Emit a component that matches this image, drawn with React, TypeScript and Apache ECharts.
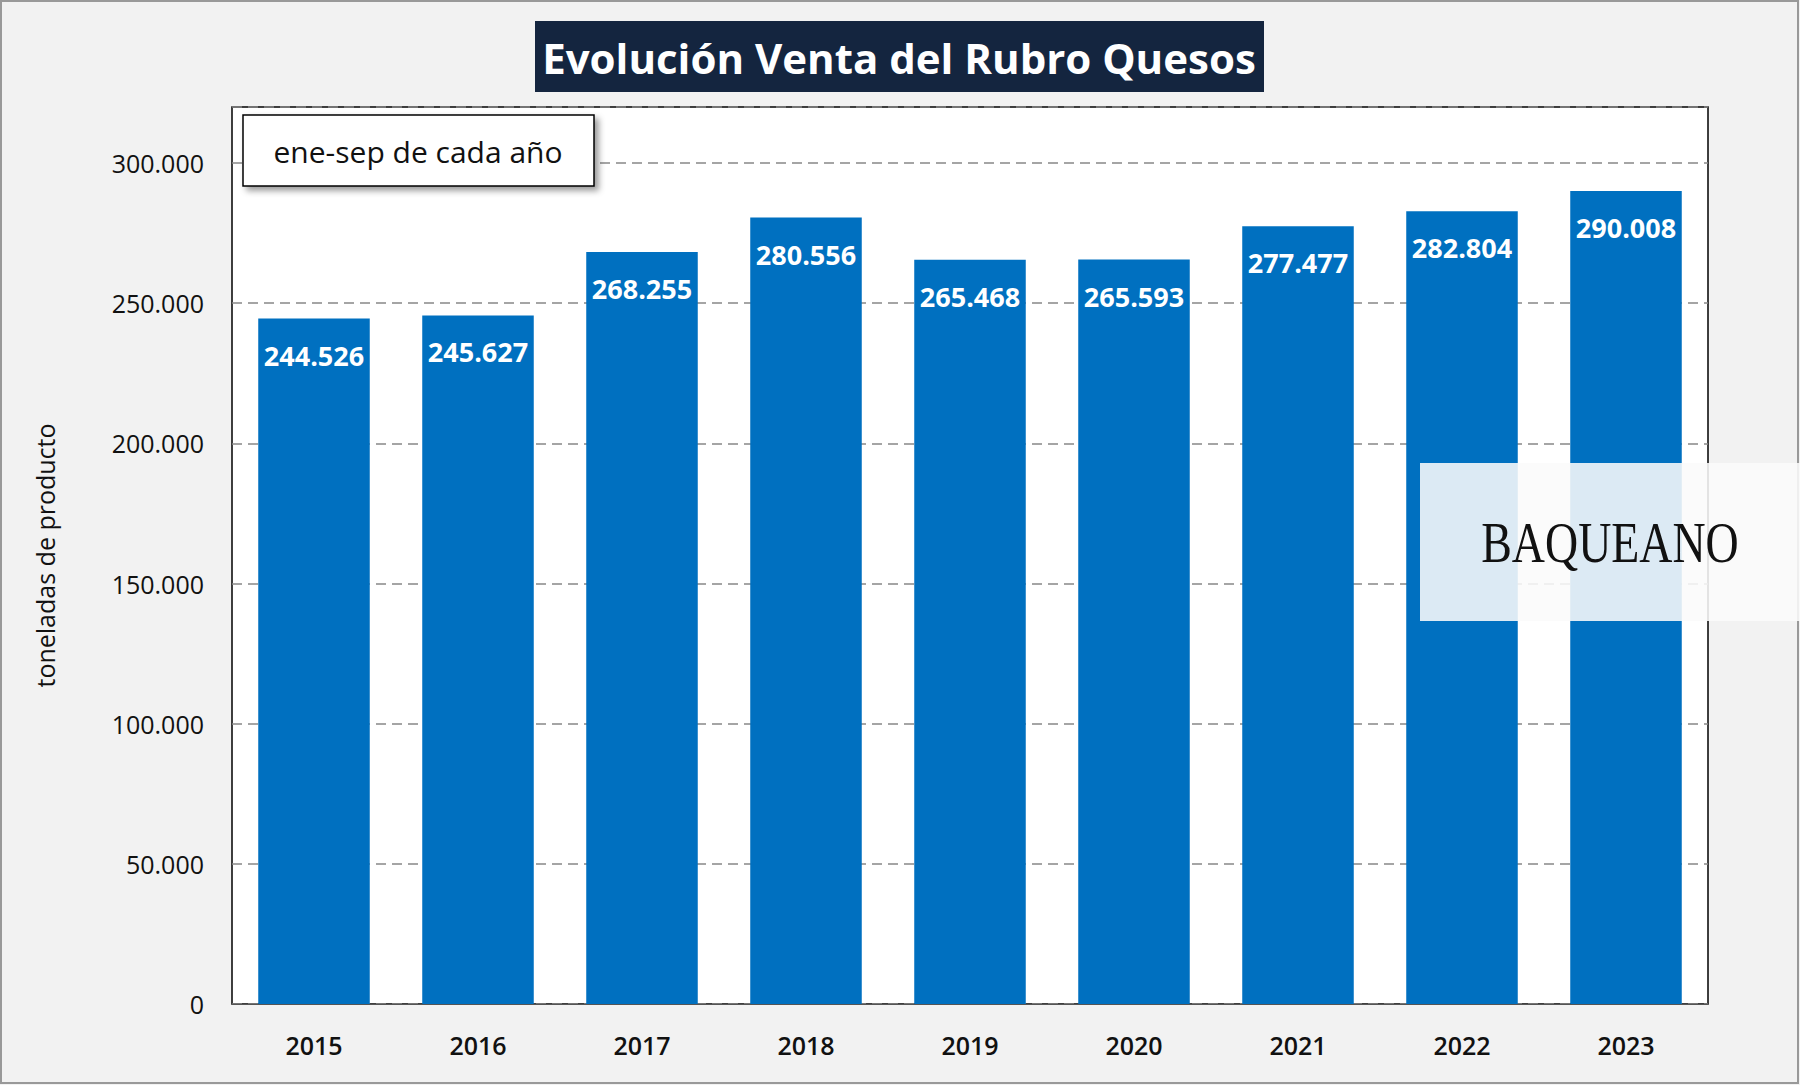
import { useEffect, useRef } from "react";
import * as echarts from "echarts";

const years = ["2015", "2016", "2017", "2018", "2019", "2020", "2021", "2022", "2023"];
const tons = [244526, 245627, 268255, 280556, 265468, 265593, 277477, 282804, 290008];

const fmt = (v: number) => String(v).replace(/\B(?=(\d{3})+(?!\d))/g, ".");
const FONT = "'Open Sans', 'Noto Sans', sans-serif";

const App = () => {
  const ref = useRef<HTMLDivElement>(null);

  useEffect(() => {
    if (!ref.current) return;
    const chart = echarts.init(ref.current, null, { renderer: "svg" });
    chart.setOption({
      animation: false,
      backgroundColor: "#f2f2f2",
      grid: { left: 232, right: 92, top: 107, bottom: 81, show: true, backgroundColor: "#ffffff", borderColor: "#000", borderWidth: 1.5 },
      xAxis: {
        type: "category",
        data: years,
        axisLine: { lineStyle: { color: "#555" } },
        axisTick: { lineStyle: { color: "#555" } },
        axisLabel: { color: "#111", fontSize: 25, fontFamily: FONT, fontWeight: 600, margin: 28 },
      },
      yAxis: {
        type: "value",
        min: 0,
        max: 320000,
        interval: 50000,
        name: "toneladas de producto",
        nameLocation: "middle",
        nameGap: 175,
        nameTextStyle: { color: "#111", fontSize: 25, fontFamily: FONT },
        axisLine: { show: false },
        axisTick: { show: false },
        axisLabel: { color: "#111", fontSize: 25, fontFamily: FONT, margin: 28, showMaxLabel: false, formatter: (v: number) => fmt(v) },
        splitLine: { lineStyle: { color: "#888", type: [10, 6], width: 1.5 } },
      },
      series: [{
        type: "bar",
        data: tons,
        barWidth: "68%",
        itemStyle: { color: "#0070c0" },
        label: {
          show: true,
          position: "insideTop",
          color: "#fff",
          fontSize: 27,
          fontWeight: "bold",
          fontFamily: FONT,
          offset: [0, 18],
          formatter: (p: any) => fmt(p.value),
        },
      }],
      graphic: [
        { type: "rect", z: 100, shape: { x: 1, y: 1, width: 1797, height: 1082 }, style: { fill: "none", stroke: "#999", lineWidth: 2 } },
        { type: "rect", z: 100, shape: { x: 535, y: 21, width: 729, height: 71 }, style: { fill: "#14253f" } },
        { type: "text", z: 101, x: 899, y: 57, style: { text: "Evolución Venta del Rubro Quesos", fill: "#fff", fontSize: 42, fontWeight: "bold", fontFamily: FONT, align: "center", verticalAlign: "middle" } },
        { type: "rect", z: 100, shape: { x: 243, y: 115, width: 351, height: 71 }, style: { fill: "#fff", stroke: "#000", lineWidth: 1.5, shadowBlur: 6, shadowOffsetX: 4, shadowOffsetY: 4, shadowColor: "rgba(0,0,0,0.4)" } },
        { type: "text", z: 101, x: 418, y: 151, style: { text: "ene-sep de cada año", fill: "#111", fontSize: 30, fontFamily: FONT, align: "center", verticalAlign: "middle" } },
        { type: "rect", z: 100, shape: { x: 1420, y: 463, width: 380, height: 158 }, style: { fill: "rgba(250,250,250,0.88)" } },
        { type: "text", z: 101, x: 1610, y: 543, scaleX: 0.82, style: { text: "BAQUEANO", fill: "#111", fontSize: 56, fontFamily: "'Liberation Serif', serif", align: "center", verticalAlign: "middle" } },
      ],
    });
    return () => chart.dispose();
  }, []);

  return <div ref={ref} style={{ position: "fixed", left: 0, top: 0, width: 1800, height: 1085 }} />;
};

export default App;
